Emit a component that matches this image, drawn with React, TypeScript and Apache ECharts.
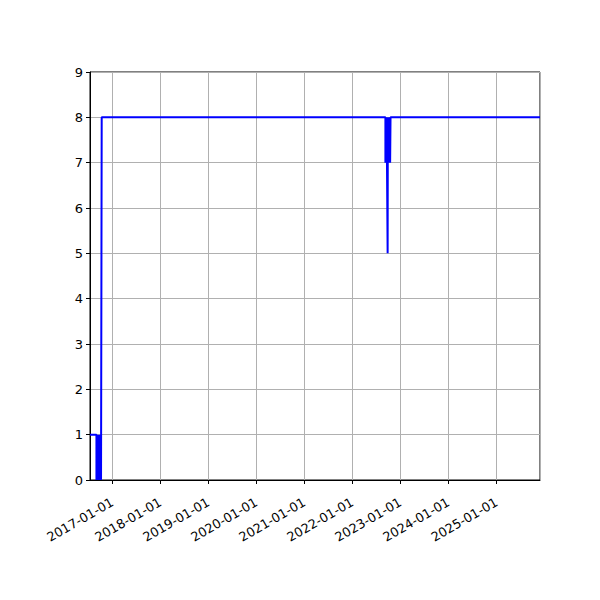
import { useEffect, useRef } from 'react'
import * as echarts from 'echarts'

// 日期与数值（阶梯线）
const dates = [
  '2016-07-15', '2016-09-02', '2016-09-05', '2016-09-08', '2016-09-11', '2016-09-14',
  '2016-09-17', '2016-09-20', '2016-09-23', '2016-09-26', '2016-09-29', '2016-10-02',
  '2016-10-05', '2016-10-07', '2016-10-12',
  '2022-09-09', '2022-09-12', '2022-09-15', '2022-09-18', '2022-09-21', '2022-09-26',
  '2022-09-27', '2022-09-30', '2022-10-03', '2022-10-06', '2022-10-09', '2022-10-12',
  '2022-10-15', '2022-10-18', '2022-10-20', '2025-11-28',
]
const values = [
  1, 0, 1, 0, 1, 0,
  1, 0, 1, 0, 1, 0,
  1, 0, 8,
  7, 8, 7, 8, 7, 5,
  7, 8, 7, 8, 7, 8,
  7, 8, 8, 8,
]
const yTicks = [0, 1, 2, 3, 4, 5, 6, 7, 8, 9]
const xMin = '2016-07-15'
const xMax = '2025-11-28'

const pad = (n: number) => (n < 10 ? '0' + n : '' + n)

const App = () => {
  const chartRef = useRef<HTMLDivElement>(null)

  useEffect(() => {
    document.body.style.margin = '0'
    if (!chartRef.current) return
    const chart = echarts.init(chartRef.current, null, { renderer: 'svg' })
    const year = 365 * 24 * 3600 * 1000

    chart.setOption({
      animation: false,
      backgroundColor: '#fff',
      grid: {
        left: 90, top: 72, width: 450, height: 408,
        show: true, borderColor: '#000', borderWidth: 1,
      },
      xAxis: {
        type: 'time',
        min: xMin,
        max: xMax,
        minInterval: year,
        maxInterval: year + 24 * 3600 * 1000,
        splitNumber: 10,
        axisLine: { show: true, lineStyle: { color: '#000', width: 1 } },
        axisTick: { show: true, length: 4, lineStyle: { color: '#000' } },
        minorTick: { show: false },
        splitLine: { show: true, lineStyle: { color: '#b0b0b0', width: 1 } },
        axisLabel: {
          rotate: 30,
          color: '#000',
          fontSize: 12.8,
          fontFamily: 'DejaVu Sans',
          margin: 21,
          showMinLabel: false,
          showMaxLabel: false,
          formatter: (v: number) => {
            const d = new Date(v)
            return `${d.getFullYear()}-${pad(d.getMonth() + 1)}-${pad(d.getDate())}`
          },
        },
      },
      yAxis: {
        type: 'value',
        min: yTicks[0],
        max: yTicks[yTicks.length - 1],
        interval: 1,
        axisLine: { show: true, lineStyle: { color: '#000', width: 1 } },
        axisTick: { show: true, length: 4, lineStyle: { color: '#000' } },
        splitLine: { show: true, lineStyle: { color: '#b0b0b0', width: 1 } },
        axisLabel: { color: '#000', fontSize: 13, fontFamily: 'DejaVu Sans', margin: 7 },
      },
      series: [
        {
          type: 'line',
          step: 'end',
          showSymbol: false,
          lineStyle: { color: '#0000ff', width: 2 },
          itemStyle: { color: '#0000ff' },
          data: dates.map((d, i) => [d, values[i]]),
        },
      ],
    })

    return () => {
      chart.dispose()
    }
  }, [])

  return <div ref={chartRef} style={{ width: 600, height: 600, background: '#fff' }} />
}

export default App
